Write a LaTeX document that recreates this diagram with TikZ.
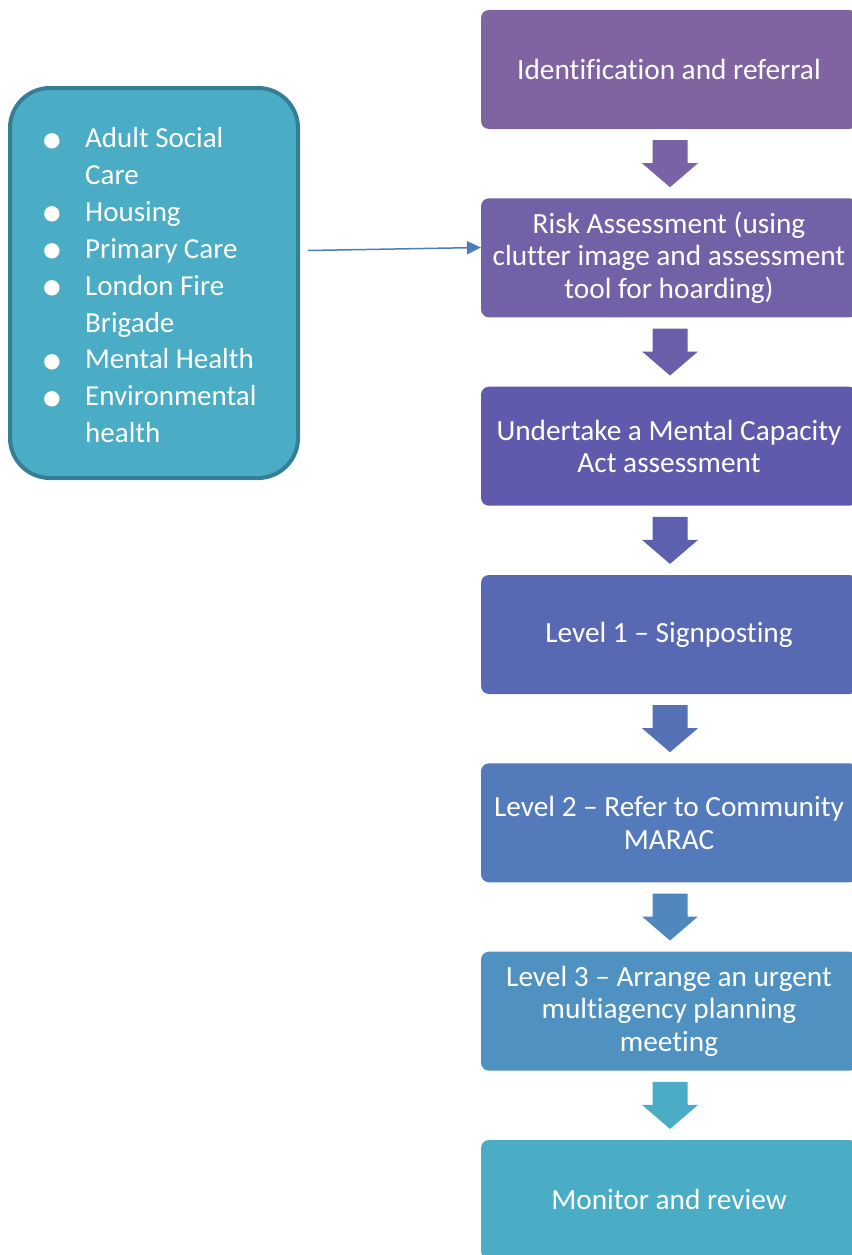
\documentclass[tikz,border=0pt]{standalone}
\usepackage{fontspec}
\setmainfont{Carlito}[Ligatures=NoCommon]
\usetikzlibrary{arrows.meta,calc}
\definecolor{c1}{HTML}{8064A2}
\definecolor{c2}{HTML}{7261A7}
\definecolor{c3}{HTML}{5F5AAB}
\definecolor{c4}{HTML}{5868B3}
\definecolor{c5}{HTML}{537BBB}
\definecolor{c6}{HTML}{4F92C2}
\definecolor{c7}{HTML}{4BACC6}
\definecolor{a1}{HTML}{7A63A5}
\definecolor{a2}{HTML}{695EA9}
\definecolor{a3}{HTML}{5C60AF}
\definecolor{a4}{HTML}{5572B7}
\definecolor{a5}{HTML}{5087BF}
\definecolor{a6}{HTML}{4BACC6}
\definecolor{srcfill}{HTML}{4BACC6}
\definecolor{srcline}{HTML}{357F96}
\definecolor{link}{HTML}{4A7EBB}
\newcommand{\blt}{\hspace*{-8pt}\raisebox{-5.5pt}[0pt][0pt]{\scalebox{1.5}{•}}}
\begin{document}
\begin{tikzpicture}[x=1pt,y=-1pt,
  stepbox/.style={rounded corners=8pt, minimum width=376pt, minimum height=119pt,
    text=white, align=center, inner sep=0pt,
    font=\fontsize{29.3}{32.5}\selectfont},
  srcbox/.style={draw=srcline, line width=4pt, fill=srcfill, rounded corners=40pt,
    minimum width=288pt, minimum height=390pt, inner sep=0pt},
  srctext/.style={text=white, inner sep=0pt, anchor=base west,
    font=\fontsize{29}{36.9}\selectfont},
  downarrow/.pic={\fill[pic actions] (-17.5,0) -- (17.5,0) -- (17.5,23) -- (28,23) -- (0,47) -- (-28,23) -- (-17.5,23) -- cycle;},
  linkarrow/.style={draw=link, line width=1.5pt, -{Triangle[length=14pt,width=13pt]}}
]
\useasboundingbox (0,0) rectangle (851,1255);
\node[stepbox, fill=c1] (b1) at (669,69.5) {Identification and referral};
\node[stepbox, fill=c2] (b2) at (669,257.8) {Risk Assessment (using\\clutter image and assessment\\tool for hoarding)};
\node[stepbox, fill=c3] (b3) at (669,446.2) {Undertake a Mental Capacity\\Act assessment};
\node[stepbox, fill=c4] (b4) at (669,634.5) {Level 1 -- Signposting};
\node[stepbox, fill=c5] (b5) at (669,822.8) {Level 2 -- Refer to Community\\MARAC};
\node[stepbox, fill=c6] (b6) at (669,1011.2) {Level 3 -- Arrange an urgent\\multiagency planning\\meeting};
\node[stepbox, fill=c7] (b7) at (669,1199.5) {Monitor and review};
\pic[fill=a1] at ($(b1.south)+(1,11)$) {downarrow};
\pic[fill=a2] at ($(b2.south)+(1,11)$) {downarrow};
\pic[fill=a3] at ($(b3.south)+(1,11)$) {downarrow};
\pic[fill=a4] at ($(b4.south)+(1,11)$) {downarrow};
\pic[fill=a5] at ($(b5.south)+(1,11)$) {downarrow};
\pic[fill=a6] at ($(b6.south)+(1,11)$) {downarrow};
\node[srcbox] (src) at (154,283) {};
\node[srctext] (srclist) at (49,147.5) {\begin{tabular}[t]{@{}p{36pt}@{}l@{}}
\blt&Adult Social\\
&Care\\
\blt&Housing\\
\blt&Primary Care\\
\blt&London Fire\\
&Brigade\\
\blt&Mental Health\\
\blt&Environmental\\
&health
\end{tabular}};
\coordinate (l1) at (308,250.5);
\coordinate (l2) at (481,247.5);
\draw[linkarrow] (l1) -- (l2);
\end{tikzpicture}
\end{document}
